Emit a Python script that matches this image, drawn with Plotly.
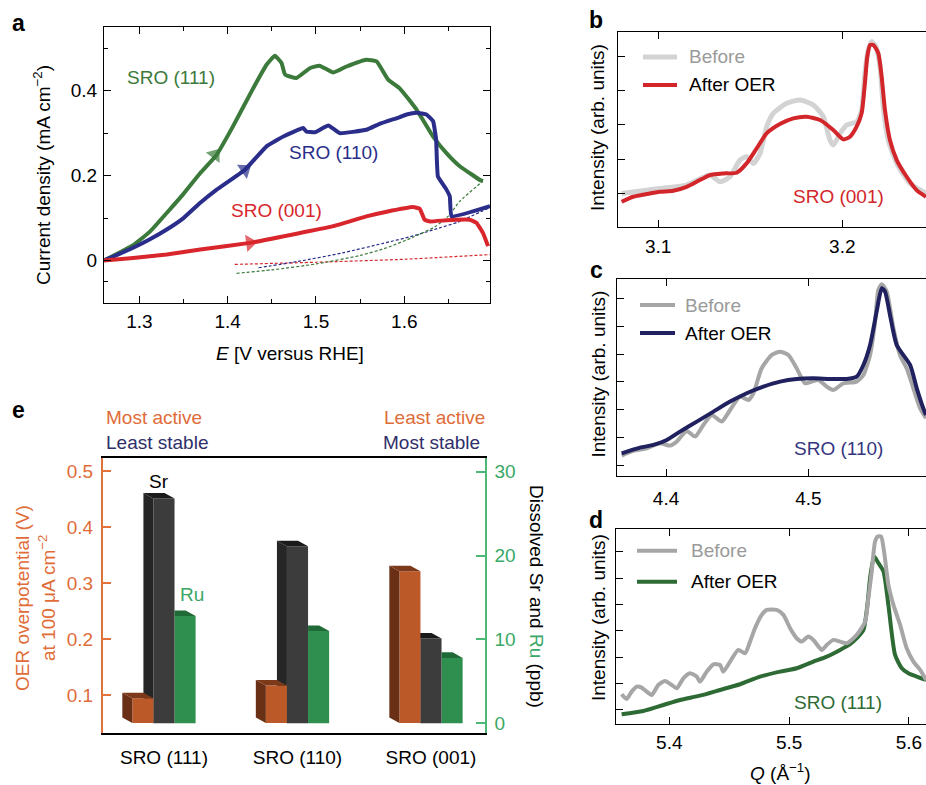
import numpy as np
import plotly.graph_objects as go

W, H = 926, 785
FONT = "Liberation Sans, Arial, Helvetica, sans-serif"
FS = 19  # text size

# ---------------- panel a: current density vs potential ----------------
E_111 = [1.26, 1.293, 1.312, 1.331, 1.35, 1.369, 1.3875, 1.406, 1.429, 1.444, 1.4535, 1.461, 1.465,
         1.478, 1.493, 1.504, 1.5196, 1.5346, 1.557, 1.5686, 1.5817, 1.595, 1.614, 1.6326, 1.6477,
         1.6628, 1.674, 1.6854, 1.689]
j_111 = [0.0, 0.036, 0.068, 0.112, 0.157, 0.206, 0.249, 0.316, 0.406, 0.461, 0.482, 0.465, 0.438,
         0.43, 0.453, 0.459, 0.443, 0.457, 0.473, 0.469, 0.426, 0.405, 0.355, 0.292, 0.253,
         0.222, 0.206, 0.19, 0.187]
E_111_ret = [1.41, 1.45, 1.5, 1.55, 1.58, 1.61, 1.635, 1.65, 1.663, 1.689]
j_111_ret = [-0.03, -0.022, -0.008, 0.012, 0.03, 0.055, 0.08, 0.105, 0.14, 0.187]

E_110 = [1.26, 1.293, 1.312, 1.331, 1.35, 1.369, 1.3876, 1.4196, 1.444, 1.463, 1.4855, 1.489, 1.4988,
         1.514, 1.527, 1.557, 1.572, 1.595, 1.6025, 1.614, 1.625, 1.6326, 1.636, 1.638, 1.6477,
         1.6515, 1.6534, 1.697]
j_110 = [0.0, 0.03, 0.05, 0.073, 0.1, 0.136, 0.167, 0.214, 0.269, 0.292, 0.312, 0.304, 0.302,
         0.318, 0.30, 0.308, 0.322, 0.338, 0.344, 0.348, 0.344, 0.328, 0.285, 0.198, 0.167,
         0.151, 0.104, 0.128]
E_110_ret = [1.435, 1.48, 1.53, 1.575, 1.61, 1.64, 1.66, 1.697]
j_110_ret = [-0.017, -0.002, 0.018, 0.04, 0.058, 0.077, 0.09, 0.125]

E_001 = [1.26, 1.293, 1.331, 1.369, 1.4252, 1.482, 1.5196, 1.557, 1.58, 1.61, 1.6175, 1.623, 1.629,
         1.6477, 1.674, 1.6816, 1.689, 1.6948]
j_001 = [0.0, 0.006, 0.014, 0.026, 0.0416, 0.065, 0.081, 0.104, 0.115, 0.126, 0.122, 0.096, 0.092,
         0.095, 0.096, 0.089, 0.065, 0.034]
E_001_ret = [1.408, 1.5, 1.6, 1.697]
j_001_ret = [-0.009, -0.004, 0.003, 0.014]

arrow_E = [1.3856, 1.4196, 1.4252]
arrow_j = [0.249, 0.214, 0.0416]

# ---------------- panel b: SRO (001) ----------------
Qb_before = [3.0801, 3.1009, 3.1154, 3.1281, 3.1335, 3.139, 3.1444, 3.148, 3.1517, 3.1553, 3.1589,
             3.1625, 3.1698, 3.177, 3.1843, 3.1897, 3.1933, 3.1951, 3.1988, 3.2024, 3.2078, 3.2105,
             3.2123, 3.2141, 3.216, 3.2183, 3.2205, 3.2223, 3.225, 3.2296, 3.2368, 3.2455]
Ib_before = [1.0, 1.145, 1.242, 1.534, 1.339, 1.485, 1.971, 2.068, 1.874, 2.165, 2.943, 3.331,
             3.623, 3.72, 3.574, 3.234, 2.554, 2.408, 2.748, 2.991, 3.088, 3.429, 4.498, 5.178,
             5.421, 5.275, 4.692, 3.526, 2.554, 1.874, 1.291, 1.0]
Qb_after = [3.0801, 3.0864, 3.0937, 3.1009, 3.1082, 3.1154, 3.1209, 3.1281, 3.1353, 3.1426, 3.1480,
            3.1535, 3.1589, 3.1661, 3.1734, 3.1806, 3.1879, 3.1951, 3.2006, 3.2042, 3.2078, 3.2105,
            3.2123, 3.2136, 3.2151, 3.2169, 3.2196, 3.2214, 3.2232, 3.2259, 3.2296, 3.235, 3.2404, 3.2455]
Ib_after = [0.756, 0.902, 0.98, 1.048, 1.077, 1.193, 1.339, 1.534, 1.582, 1.601, 1.874, 2.311,
            2.748, 3.02, 3.186, 3.234, 3.137, 2.846, 2.573, 2.651, 2.943, 3.331, 4.206, 4.983,
            5.324, 5.324, 5.081, 4.4, 3.429, 2.554, 1.971, 1.485, 1.096, 0.902]

# ---------------- panel c: SRO (110) ----------------
Qc_before = [4.3688, 4.377, 4.3864, 4.3958, 4.4028, 4.4075, 4.4145, 4.4204, 4.4262, 4.4321, 4.4391,
             4.445, 4.452, 4.4579, 4.4614, 4.4672, 4.4743, 4.4801, 4.486, 4.4918, 4.4977, 4.5024,
             4.5071, 4.5129, 4.5176, 4.5246, 4.534, 4.5387, 4.5434, 4.5469, 4.5492, 4.5516, 4.5551,
             4.5598, 4.5644, 4.5691, 4.5738, 4.5785, 4.5827]
Ic_before = [1.36, 1.527, 1.623, 1.802, 1.718, 1.861, 2.244, 2.041, 2.459, 2.817, 2.578, 2.996,
             3.474, 3.355, 3.594, 4.49, 4.968, 5.087, 4.968, 4.49, 3.952, 4.012, 4.072, 3.833,
             3.713, 3.952, 4.012, 4.251, 4.968, 6.162, 7.297, 7.501, 7.238, 5.924, 4.968, 4.49,
             3.773, 3.056, 2.698]
Qc_after = [4.3688, 4.3817, 4.3911, 4.4005, 4.4098, 4.4216, 4.4333, 4.445, 4.4567, 4.4684, 4.4801,
            4.4918, 4.5035, 4.5153, 4.527, 4.534, 4.5387, 4.5434, 4.548, 4.5516, 4.5539, 4.5574,
            4.5621, 4.5715, 4.5762, 4.5808, 4.5827]
Ic_after = [1.443, 1.646, 1.742, 1.921, 2.22, 2.578, 2.937, 3.295, 3.594, 3.833, 4.012, 4.108,
            4.131, 4.108, 4.108, 4.191, 4.609, 5.326, 6.521, 7.357, 7.238, 6.401, 5.326, 4.609,
            3.773, 3.056, 2.817]

# ---------------- panel d: SRO (111) ----------------
Qd_before = [5.3602, 5.3644, 5.3686, 5.3728, 5.3769, 5.3811, 5.3853, 5.3908, 5.3964, 5.402, 5.4062,
             5.4117, 5.4173, 5.4228, 5.4256, 5.4312, 5.4368, 5.4423, 5.4451, 5.4507, 5.4576, 5.4632,
             5.4674, 5.4715, 5.4771, 5.4813, 5.4896, 5.4952, 5.5008, 5.5063, 5.5105, 5.516, 5.5202,
             5.5272, 5.5314, 5.5369, 5.5425, 5.5481, 5.5564, 5.5634, 5.5661, 5.5689, 5.5717, 5.5739,
             5.5767, 5.5792, 5.5828, 5.587, 5.5926, 5.5981, 5.6037, 5.6093, 5.6143]
Id_before = [1.584, 1.407, 1.686, 1.876, 1.838, 1.686, 1.559, 1.939, 2.091, 1.939, 1.813, 2.193,
             2.383, 2.256, 2.066, 2.446, 2.725, 2.7, 2.446, 2.826, 3.27, 3.143, 3.587, 4.094, 4.601,
             4.791, 4.791, 4.601, 4.094, 3.714, 3.587, 3.777, 3.65, 3.27, 3.46, 3.65, 3.587, 3.524,
             3.84, 4.347, 5.235, 6.248, 7.389, 7.579, 7.579, 7.009, 5.741, 4.981, 4.221, 3.333,
             2.826, 2.51, 2.129]
Qd_after = [5.3602, 5.3783, 5.395, 5.4089, 5.4256, 5.4423, 5.459, 5.4757, 5.4924, 5.5063, 5.5202,
            5.5314, 5.5425, 5.5508, 5.5564, 5.562, 5.5653, 5.5675, 5.5709, 5.5745, 5.5787, 5.5828,
            5.5884, 5.594, 5.5995, 5.6065, 5.6143]
Id_after = [0.824, 0.951, 1.179, 1.369, 1.533, 1.749, 1.965, 2.256, 2.446, 2.573, 2.826, 3.016,
            3.27, 3.486, 3.714, 4.03, 4.981, 5.995, 6.819, 6.565, 6.248, 4.981, 3.08, 2.573,
            2.383, 2.256, 2.129]

# ---------------- panel e: overpotential and dissolution ----------------
e_categories = ["SRO (111)", "SRO (110)", "SRO (001)"]
overpotential = [0.094, 0.117, 0.321]   # V at 100 uA cm-2
dissolved_Sr = [26.8, 21.1, 10.1]       # ppb
dissolved_Ru = [12.8, 11.0, 7.8]        # ppb
OVERPOT_BASE = 0.05

# ---------------- colours ----------------
C_GREEN_A, C_BLUE_A, C_RED_A = "#3b7a3b", "#2a2e8a", "#d8262c"
C_RED_B, C_NAVY_C, C_GREEN_D = "#d3262b", "#20215e", "#2e6b34"
C_GRAY, C_GRAY_B = "#a6a6a6", "#d3d3d3"
C_OR_AX, C_OR_TXT, C_NAVY_TXT = "#e0733c", "#e06c38", "#2f2f6b"
C_GR_AX, C_GR_TXT = "#4db776", "#3aa865"


def dom_x(a, b):
    return [a / W, min(b / W, 1.0)]


def dom_y(top, bottom):
    return [1 - bottom / H, 1 - top / H]


fig = go.Figure()


def line(x, y, color, width, xa, ya, dash=None, shape="linear", smoothing=0.6):
    ln = dict(color=color, width=width, dash=dash, shape=shape)
    if shape == "spline":
        ln["smoothing"] = smoothing
    fig.add_trace(go.Scatter(x=x, y=y, mode="lines", line=ln,
                             xaxis=xa, yaxis=ya, showlegend=False, hoverinfo="skip"))


# panel a
DASH = "3px,2px"
line(E_001_ret, j_001_ret, C_RED_A, 1.2, "x", "y", dash=DASH, shape="spline")
line(E_110_ret, j_110_ret, C_BLUE_A, 1.2, "x", "y", dash=DASH, shape="spline")
line(E_111_ret, j_111_ret, C_GREEN_A, 1.2, "x", "y", dash=DASH, shape="spline")
line(E_111, j_111, C_GREEN_A, 4, "x", "y", shape="spline", smoothing=0.4)
line(E_110, j_110, C_BLUE_A, 4, "x", "y", shape="spline", smoothing=0.3)
line(E_001, j_001, C_RED_A, 4, "x", "y", shape="spline", smoothing=0.3)
for (cE, cj, col), aE, aj in zip([(E_111, j_111, C_GREEN_A), (E_110, j_110, C_BLUE_A),
                                  (E_001, j_001, C_RED_A)], arrow_E, arrow_j):
    pE = aE - 0.01
    pj = float(np.interp(pE, cE, cj))
    fig.add_trace(go.Scatter(x=[pE, aE], y=[pj, aj], mode="markers",
                             marker=dict(symbol="triangle-up", size=[0, 15], color=col,
                                         angleref="previous", line=dict(width=0)),
                             xaxis="x", yaxis="y", showlegend=False, hoverinfo="skip"))

# panels b, c, d
line(Qb_before, Ib_before, C_GRAY_B, 5, "x2", "y2", shape="spline")
line(Qb_after, Ib_after, C_RED_B, 4, "x2", "y2", shape="spline")
line(Qc_before, Ic_before, C_GRAY, 4, "x3", "y3", shape="spline")
line(Qc_after, Ic_after, C_NAVY_C, 4, "x3", "y3", shape="spline")
line(Qd_after, Id_after, C_GREEN_D, 4, "x4", "y4", shape="spline")
line(Qd_before, Id_before, C_GRAY, 4, "x4", "y4", shape="spline")

# panel e : pseudo-3D bars
BW = 0.158
OFF_OR, OFF_SR, OFF_RU = -0.237, -0.079, 0.079
DX = 0.075          # depth offset in category units
DY_L = 0.0098       # depth offset on overpotential axis
DY_R = 0.66         # depth offset on ppb axis
xs = list(range(len(e_categories)))


def poly(x, y, color, ya):
    fig.add_trace(go.Scatter(x=x + [x[0]], y=y + [y[0]], mode="lines", fill="toself",
                             fillcolor=color, line=dict(width=0, color=color),
                             xaxis="x5", yaxis=ya, showlegend=False, hoverinfo="skip"))


# Ru (green) first - its side face is hidden behind the Sr bar
for i, v in zip(xs, dissolved_Ru):
    x0 = i + OFF_RU
    poly([x0, x0 + BW, x0 + BW - DX, x0], [v, v, v + DY_R, v + DY_R], "#1f6a36", "y5")
fig.add_trace(go.Bar(x=xs, y=dissolved_Ru, base=0, width=BW, offset=OFF_RU,
                     marker=dict(color="#2e8f4e", line=dict(width=0)),
                     xaxis="x5", yaxis="y5", showlegend=False, hoverinfo="skip"))
for i, v in zip(xs, dissolved_Sr):
    x0 = i + OFF_SR
    poly([x0, x0, x0 - DX, x0 - DX], [0, v, v + DY_R, DY_R], "#262626", "y5")
    poly([x0, x0 + BW, x0 + BW - DX, x0 - DX], [v, v, v + DY_R, v + DY_R], "#1b1b1b", "y5")
fig.add_trace(go.Bar(x=xs, y=dissolved_Sr, base=0, width=BW, offset=OFF_SR,
                     marker=dict(color="#3c3c3c", line=dict(width=0)),
                     xaxis="x5", yaxis="y5", showlegend=False, hoverinfo="skip"))
for i, v in zip(xs, overpotential):
    x0 = i + OFF_OR
    b = OVERPOT_BASE
    poly([x0, x0, x0 - DX, x0 - DX], [b, v, v + DY_L, b + DY_L], "#6a3016", "y6")
    poly([x0, x0 + BW, x0 + BW - DX, x0 - DX], [v, v, v + DY_L, v + DY_L], "#7d3a1b", "y6")
fig.add_trace(go.Bar(x=xs, y=[v - OVERPOT_BASE for v in overpotential], base=OVERPOT_BASE,
                     width=BW, offset=OFF_OR,
                     marker=dict(color="#bb5a28", line=dict(width=0)),
                     xaxis="x5", yaxis="y6", showlegend=False, hoverinfo="skip"))

# ---------------- axes ----------------
tick_font = dict(family=FONT, size=FS, color="black")
common = dict(showgrid=False, zeroline=False, showline=True, linecolor="black", linewidth=1,
              ticks="inside", ticklen=7, tickwidth=1, tickcolor="black", tickfont=tick_font)
minor_in = dict(ticks="inside", ticklen=4, tickwidth=1, tickcolor="black", showgrid=False)

layout_axes = dict(
    xaxis=dict(common, domain=dom_x(104, 490), range=[1.26, 1.697], anchor="y", mirror="ticks",
               tickvals=[1.3, 1.4, 1.5, 1.6], ticktext=["1.3", "1.4", "1.5", "1.6"],
               minor=dict(minor_in, tickmode="array", tickvals=[1.35, 1.45, 1.55, 1.65]),
               ticklabelstandoff=1),
    yaxis=dict(common, domain=dom_y(27, 303), range=[-0.1, 0.55], anchor="x", mirror="ticks",
               tickvals=[0, 0.2, 0.4], ticktext=["0", "0.2", "0.4"],
               minor=dict(minor_in, tickmode="array", tickvals=[-0.05, 0.1, 0.3, 0.5]),
               ticklabelstandoff=2),
    xaxis2=dict(common, domain=dom_x(618.3, 926), range=[3.0783, 3.2455], anchor="y2",
                mirror="ticks", tickvals=[3.1, 3.2], ticktext=["3.1", "3.2"], ticklabelstandoff=2),
    yaxis2=dict(common, domain=dom_y(31.7, 226.7), range=[0.03, 5.71], anchor="x2",
                tickvals=[1, 2, 3, 4, 5], showticklabels=False),
    xaxis3=dict(common, domain=dom_x(616.7, 926), range=[4.3653, 4.5827], anchor="y3",
                mirror="ticks", tickvals=[4.4, 4.5], ticktext=["4.4", "4.5"], ticklabelstandoff=5),
    yaxis3=dict(common, domain=dom_y(279, 475.7), range=[0.64, 7.69], anchor="x3",
                tickvals=[1, 2, 3, 4, 5, 6, 7], showticklabels=False),
    xaxis4=dict(common, domain=dom_x(616, 926), range=[5.3555, 5.6142], anchor="y4",
                mirror="ticks", tickvals=[5.4, 5.5, 5.6], ticktext=["5.4", "5.5", "5.6"],
                ticklabelstandoff=1),
    yaxis4=dict(common, domain=dom_y(529, 724), range=[0.456, 7.863], anchor="x4",
                tickvals=[1, 2, 3, 4, 5, 6, 7], showticklabels=False),
    xaxis5=dict(showgrid=False, zeroline=False, showline=True, linecolor="black", linewidth=1.5,
                mirror=True, ticks="", domain=dom_x(102.7, 485), range=[-0.459, 2.4045],
                anchor="y5", tickvals=xs, ticktext=e_categories,
                tickfont=dict(family=FONT, size=FS, color="black"), ticklabelstandoff=6),
    yaxis5=dict(showgrid=False, zeroline=False, showline=True, linecolor=C_GR_AX, linewidth=1.5,
                ticks="inside", ticklen=9, tickwidth=1.5, tickcolor=C_GR_AX,
                tickfont=dict(family=FONT, size=FS, color=C_GR_TXT), side="right",
                domain=dom_y(458.3, 733.3), range=[-1.19, 31.6], anchor="x5",
                tickvals=[0, 10, 20, 30], ticklabelstandoff=4),
    yaxis6=dict(showgrid=False, zeroline=False, showline=True, linecolor=C_OR_AX, linewidth=1.5,
                ticks="inside", ticklen=9, tickwidth=1.5, tickcolor=C_OR_AX,
                tickfont=dict(family=FONT, size=FS, color=C_OR_TXT), side="left",
                overlaying="y5", range=[0.0316, 0.5227], anchor="x5",
                tickvals=[0.1, 0.2, 0.3, 0.4, 0.5], ticklabelstandoff=4),
)

# ---------------- annotations ----------------
anns = []


def ann(text, x, y, size=FS, color="black", xanchor="center", angle=0, bold=False):
    if bold:
        text = "<b>" + text + "</b>"
    anns.append(dict(text=text, x=x / W, y=1 - y / H, xref="paper", yref="paper",
                     showarrow=False, xanchor=xanchor, yanchor="middle", textangle=angle,
                     font=dict(family=FONT, size=size, color=color)))


for lab, x, y in [("a", 18, 23), ("b", 596, 20), ("c", 596, 270), ("d", 596, 520), ("e", 18, 410)]:
    ann(lab, x, y, size=23, bold=True)

ann("Current density (mA cm<sup>−2</sup>)", 42, 175, angle=-90)
ann("<i>E</i> [V versus RHE]", 290, 353)
ann("SRO (111)", 171, 78, color=C_GREEN_A)
ann("SRO (110)", 333, 153, color=C_BLUE_A)
ann("SRO (001)", 276, 211, color=C_RED_A)

for yc in (128, 374.5, 618):
    ann("Intensity (arb. units)", 598, yc, angle=-90)
ann("SRO (001)", 838, 197, color=C_RED_B)
ann("SRO (110)", 838, 448, color="#35357f")
ann("SRO (111)", 838, 702, color=C_GREEN_D)
ann("<i>Q</i> (Å<sup>−1</sup>)", 780, 772)

shapes = []
for (ly_b, ly_a, lx0, lx1, tx, bcol, bw, acol) in [
        (57, 85, 643, 677, 687, C_GRAY_B, 5, C_RED_B),
        (305, 333, 640, 675, 683, C_GRAY, 4, C_NAVY_C),
        (550.7, 581.7, 637, 677, 689, C_GRAY, 4, C_GREEN_D)]:
    shapes.append(dict(type="line", xref="paper", yref="paper", x0=lx0 / W, x1=lx1 / W,
                       y0=1 - ly_b / H, y1=1 - ly_b / H, line=dict(color=bcol, width=bw)))
    shapes.append(dict(type="line", xref="paper", yref="paper", x0=lx0 / W, x1=lx1 / W,
                       y0=1 - ly_a / H, y1=1 - ly_a / H, line=dict(color=acol, width=4)))
    ann("Before", tx, ly_b, color="#9a9a9a", xanchor="left")
    ann("After OER", tx, ly_a, color="black", xanchor="left")

ann("Most active", 104, 417, color=C_OR_TXT, xanchor="left")
ann("Least stable", 104, 442, color=C_NAVY_TXT, xanchor="left")
ann("Least active", 487, 417, color=C_OR_TXT, xanchor="right")
ann("Most stable", 482, 442, color=C_NAVY_TXT, xanchor="right")
ann("Sr", 159, 481, color="black")
ann("Ru", 192, 594, color=C_GR_TXT)
ann("OER overpotential (V)", 22, 598, color=C_OR_TXT, angle=-90)
ann("at 100 μA cm<sup>−2</sup>", 47, 598, color=C_OR_TXT, angle=-90)
ann("Dissolved Sr and <span style='color:%s'>Ru</span> (ppb)" % C_GR_TXT, 537, 596, angle=90)

fig.update_layout(
    width=W, height=H, margin=dict(l=0, r=0, t=0, b=0, pad=0),
    paper_bgcolor="white", plot_bgcolor="rgba(0,0,0,0)",
    font=dict(family=FONT, size=FS, color="black"),
    showlegend=False, barmode="overlay",
    annotations=anns, shapes=shapes, **layout_axes,
)

fig.write_html("out.html")
